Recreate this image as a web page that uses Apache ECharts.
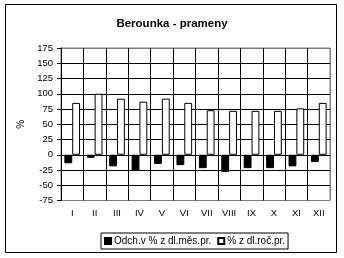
<!DOCTYPE html>
<html><head><meta charset="utf-8">
<script src="https://cdn.jsdelivr.net/npm/echarts@6/dist/echarts.min.js"></script>
<style>html,body{margin:0;padding:0;background:#fff}#c{width:344px;height:258px}</style>
</head><body><div id="c"></div>
<script>
var categories = ['I','II','III','IV','V','VI','VII','VIII','IX','X','XI','XII'];
var odchylka = [-14, -5, -19, -26, -15, -17, -22, -28, -22, -22, -19, -12];
var rocniPr = [85, 100, 92, 87, 92, 85, 73, 72, 72, 72, 76, 85];
var seriesNames = ['Odch.v % z dl.měs.pr.', '% z dl.roč.pr.'];
var titleText = 'Berounka - prameny';
var yName = '%';

var font = "'Liberation Sans', Arial, sans-serif";
var chart = echarts.init(document.getElementById('c'), null, {renderer: 'canvas'});
var ySplitColors = ['#808080','#000','#000','#000','#000','#000','#000','#000','#000','#000','#808080'];
var xSplitColors = ['#000','#000','#000','#000','#000','#000','#000','#000','#000','#000','#000','#000','#808080'];
chart.setOption({
  animation: false,
  backgroundColor: '#fff',
  title: {
    text: titleText, left: 'center', top: 13,
    textStyle: {fontFamily: font, fontSize: 11.5, fontWeight: 'bold', color: '#000'}
  },
  graphic: [{
    type: 'rect', silent: true,
    shape: {x: 5.5, y: 4.5, width: 331, height: 248},
    style: {fill: 'none', stroke: '#000', lineWidth: 1}
  }],
  legend: {
    left: 101, top: 233,
    data: seriesNames,
    orient: 'horizontal',
    borderColor: '#000', borderWidth: 1,
    padding: [3, 3, 3, 3],
    itemWidth: 6, itemHeight: 6, itemGap: 6,
    icon: 'rect',
    textStyle: {fontFamily: font, fontSize: 10, color: '#000', padding: [0,0,0,-2]}
  },
  grid: {
    left: 61, top: 48, width: 269, height: 152.5,
    show: true, borderColor: '#808080', borderWidth: 1, backgroundColor: '#fff'
  },
  xAxis: {
    type: 'category', data: categories, position: 'bottom',
    axisLine: {show: false}, axisTick: {show: false},
    axisLabel: {fontFamily: font, fontSize: 9.5, color: '#000', margin: 8, interval: 0},
    splitLine: {show: true, interval: 0, lineStyle: {color: xSplitColors, width: 1}}
  },
  yAxis: {
    type: 'value', min: -75, max: 175, interval: 25,
    name: yName, nameLocation: 'middle', nameGap: 31, nameRotate: 90,
    nameTextStyle: {fontFamily: font, fontSize: 10, color: '#000'},
    axisLine: {show: true, lineStyle: {color: '#000', width: 1}},
    axisTick: {show: true, inside: false, length: 4, lineStyle: {color: '#000'}},
    axisLabel: {fontFamily: font, fontSize: 9.5, color: '#000', margin: 8},
    splitLine: {show: true, lineStyle: {color: ySplitColors, width: 1}}
  },
  series: [
    {
      name: seriesNames[0], type: 'bar', data: odchylka,
      barGap: '0%', barCategoryGap: '30%',
      itemStyle: {color: '#000', borderColor: '#000', borderWidth: 1}
    },
    {
      name: seriesNames[1], type: 'bar', data: rocniPr,
      barGap: '0%', barCategoryGap: '30%',
      itemStyle: {color: '#fff', borderColor: '#000', borderWidth: 1}
    }
  ]
});
</script></body></html>
